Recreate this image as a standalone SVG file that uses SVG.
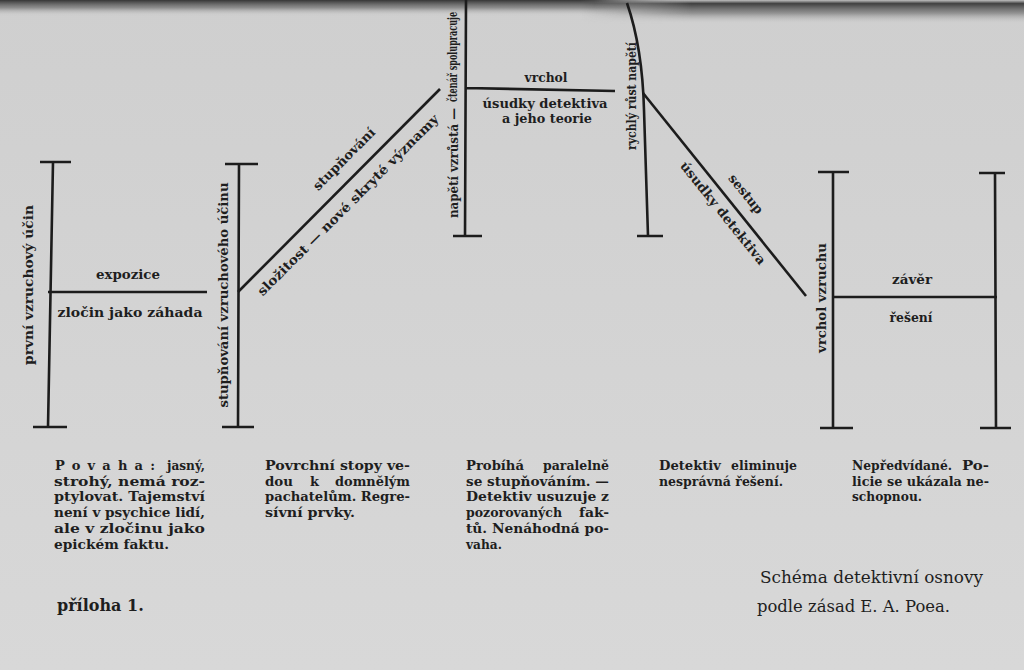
<svg xmlns="http://www.w3.org/2000/svg" width="1024" height="670" viewBox="0 0 1024 670">
<defs>
<linearGradient id="shadeL" x1="0" y1="0" x2="0" y2="1">
<stop offset="0" stop-color="#2e2e2e" stop-opacity="0.95"/>
<stop offset="0.5" stop-color="#666" stop-opacity="0.6"/>
<stop offset="1" stop-color="#d3d3d3" stop-opacity="0"/>
</linearGradient>
<linearGradient id="shadeR" x1="0" y1="0" x2="0" y2="1">
<stop offset="0" stop-color="#bdbdbd" stop-opacity="0.9"/>
<stop offset="0.15" stop-color="#303030" stop-opacity="0.9"/>
<stop offset="0.55" stop-color="#6a6a6a" stop-opacity="0.6"/>
<stop offset="1" stop-color="#d3d3d3" stop-opacity="0"/>
</linearGradient>
<linearGradient id="fadeX" x1="0" y1="0" x2="1" y2="0">
<stop offset="0" stop-color="#fff" stop-opacity="0"/>
<stop offset="0.25" stop-color="#fff" stop-opacity="1"/>
<stop offset="1" stop-color="#fff" stop-opacity="1"/>
</linearGradient>
<linearGradient id="fadeXL" x1="0" y1="0" x2="1" y2="0">
<stop offset="0" stop-color="#fff" stop-opacity="1"/>
<stop offset="0.85" stop-color="#fff" stop-opacity="1"/>
<stop offset="1" stop-color="#fff" stop-opacity="0"/>
</linearGradient>
<mask id="mR"><rect x="580" y="0" width="444" height="30" fill="url(#fadeX)"/></mask>
<mask id="mL"><rect x="0" y="0" width="700" height="30" fill="url(#fadeXL)"/></mask>
<linearGradient id="page" x1="0" y1="0" x2="0" y2="1">
<stop offset="0" stop-color="#cfcfcf"/>
<stop offset="1" stop-color="#d8d8d8"/>
</linearGradient>
<style>
.ln{stroke:#1c1c1c;stroke-width:2.6;fill:none;stroke-linecap:butt}
.lb{font-family:"DejaVu Serif","Liberation Serif",serif;font-weight:bold;font-size:13px;fill:#1e1e1e}
.tx{font-family:"DejaVu Serif","Liberation Serif",serif;font-weight:bold;font-size:13px;fill:#1e1e1e}
.cap{font-family:"DejaVu Serif","Liberation Serif",serif;font-size:16px;fill:#1e1e1e}
.c{text-anchor:middle;dominant-baseline:central}
.e{text-anchor:end}
</style>
</defs>
<rect width="1024" height="670" fill="url(#page)"/>
<rect x="0" y="0" width="700" height="16" fill="url(#shadeL)" mask="url(#mL)"/>
<rect x="580" y="0" width="444" height="24" fill="url(#shadeR)" mask="url(#mR)"/>

<g id="stage1">
<path class="ln" d="M53,162 L48,427 M40,162 H71 M33,427 H67 M48,292 H207"/>
<text class="lb c" transform="translate(28,285) rotate(-90)" textLength="160" lengthAdjust="spacingAndGlyphs">první vzruchový účin</text>
<text class="lb c" x="128" y="274" textLength="64" lengthAdjust="spacingAndGlyphs">expozice</text>
<text class="lb c" x="130" y="312" textLength="145" lengthAdjust="spacingAndGlyphs">zločin jako záhada</text>
</g>

<g id="stage2">
<path class="ln" d="M239,164 L238,427 M225,164 H258 M222,427 H254"/>
<text class="lb c" transform="translate(223,295) rotate(-90)" textLength="225" lengthAdjust="spacingAndGlyphs">stupňování vzruchového účinu</text>
</g>

<g id="stage3">
<path class="ln" d="M466,0 L465,236 M453,236 H482 M466,88 L615,91"/>
<text class="lb" transform="translate(458,218) rotate(-90)" textLength="110" lengthAdjust="spacingAndGlyphs">napětí vzrůstá —</text>
<text class="lb" transform="translate(457,102) rotate(-90)" font-size="10.5" textLength="90" lengthAdjust="spacingAndGlyphs">čtenář spolupracuje</text>
<text class="lb c" x="546" y="77" textLength="43" lengthAdjust="spacingAndGlyphs">vrchol</text>
<text class="lb c" x="545" y="103" textLength="125" lengthAdjust="spacingAndGlyphs">úsudky detektiva</text>
<text class="lb c" x="547" y="118" textLength="90" lengthAdjust="spacingAndGlyphs">a jeho teorie</text>
</g>

<g id="stage4">
<path class="ln" d="M627,3 C638,35 643,70 644,110 L648,236 M637,236 H663"/>
<text class="lb c" transform="translate(631,96) rotate(-90)" textLength="108" lengthAdjust="spacingAndGlyphs">rychlý růst napětí</text>
</g>

<g id="stage5">
<path class="ln" d="M833,172 L833,428 M818,172 H849 M820,428 H853 M995,173 L996,428 M979,173 H1005 M980,428 H1011 M833,297 H997"/>
<text class="lb c" transform="translate(821,298) rotate(-90)" textLength="110" lengthAdjust="spacingAndGlyphs">vrchol vzruchu</text>
<text class="lb c" x="912" y="279" textLength="40" lengthAdjust="spacingAndGlyphs">závěr</text>
<text class="lb c" x="911" y="317" textLength="43" lengthAdjust="spacingAndGlyphs">řešení</text>
</g>

<g id="connectors">
<path class="ln" d="M238,292 L440,89"/>
<path class="ln" d="M643,93 L806,296"/>
<text class="lb c" transform="translate(344,159) rotate(-45)" textLength="82" lengthAdjust="spacingAndGlyphs">stupňování</text>
<text class="lb c" transform="translate(348,205) rotate(-45)" textLength="250" lengthAdjust="spacingAndGlyphs">složitost — nové skryté významy</text>
<text class="lb c" transform="translate(746,194) rotate(51.2)" textLength="47" lengthAdjust="spacingAndGlyphs">sestup</text>
<text class="lb c" transform="translate(723,213) rotate(51.2)" textLength="128" lengthAdjust="spacingAndGlyphs">úsudky detektiva</text>
</g>

<g id="notes">
<text class="tx" x="55" y="470" textLength="100" lengthAdjust="spacing">Povaha:</text>
<text class="tx e" x="205" y="470" textLength="38" lengthAdjust="spacingAndGlyphs">jasný,</text>
<text class="tx" x="54" y="486" textLength="151" lengthAdjust="spacingAndGlyphs">strohý, nemá roz-</text>
<text class="tx" x="54" y="501" textLength="151" lengthAdjust="spacingAndGlyphs">ptylovat. Tajemství</text>
<text class="tx" x="54" y="517" textLength="151" lengthAdjust="spacingAndGlyphs">není v psychice lidí,</text>
<text class="tx" x="54" y="533" textLength="151" lengthAdjust="spacingAndGlyphs">ale v zločinu jako</text>
<text class="tx" x="54" y="549" textLength="115" lengthAdjust="spacingAndGlyphs">epickém faktu.</text>

<text class="tx" x="265" y="470" textLength="145" lengthAdjust="spacingAndGlyphs">Povrchní stopy ve-</text>
<text class="tx" x="265" y="486" textLength="28" lengthAdjust="spacingAndGlyphs">dou</text>
<text class="tx" x="310" y="486">k</text>
<text class="tx e" x="410" y="486" textLength="75" lengthAdjust="spacingAndGlyphs">domnělým</text>
<text class="tx" x="265" y="501" textLength="145" lengthAdjust="spacingAndGlyphs">pachatelům. Regre-</text>
<text class="tx" x="265" y="517" textLength="90" lengthAdjust="spacingAndGlyphs">sívní prvky.</text>

<text class="tx" x="466" y="470" textLength="58" lengthAdjust="spacingAndGlyphs">Probíhá</text>
<text class="tx e" x="609" y="470" textLength="66" lengthAdjust="spacingAndGlyphs">paralelně</text>
<text class="tx" x="466" y="486" textLength="143" lengthAdjust="spacingAndGlyphs">se stupňováním. —</text>
<text class="tx" x="466" y="501" textLength="143" lengthAdjust="spacingAndGlyphs">Detektiv usuzuje z</text>
<text class="tx" x="466" y="517" textLength="96" lengthAdjust="spacingAndGlyphs">pozorovaných</text>
<text class="tx e" x="609" y="517" textLength="30" lengthAdjust="spacingAndGlyphs">fak-</text>
<text class="tx" x="466" y="533" textLength="143" lengthAdjust="spacingAndGlyphs">tů. Nenáhodná po-</text>
<text class="tx" x="466" y="549" textLength="36" lengthAdjust="spacingAndGlyphs">vaha.</text>

<text class="tx" x="659" y="470" textLength="62" lengthAdjust="spacingAndGlyphs">Detektiv</text>
<text class="tx e" x="797" y="470" textLength="66" lengthAdjust="spacingAndGlyphs">eliminuje</text>
<text class="tx" x="659" y="486" textLength="124" lengthAdjust="spacingAndGlyphs">nesprávná řešení.</text>

<text class="tx" x="852" y="470" textLength="100" lengthAdjust="spacingAndGlyphs">Nepředvídané.</text>
<text class="tx e" x="989" y="470" textLength="27" lengthAdjust="spacingAndGlyphs">Po-</text>
<text class="tx" x="852" y="486" textLength="137" lengthAdjust="spacingAndGlyphs">licie se ukázala ne-</text>
<text class="tx" x="852" y="501" textLength="70" lengthAdjust="spacingAndGlyphs">schopnou.</text>
</g>

<g id="captions">
<text class="cap" x="57" y="611" font-weight="bold">příloha 1.</text>
<text class="cap" x="760" y="583" textLength="223" lengthAdjust="spacingAndGlyphs">Schéma detektivní osnovy</text>
<text class="cap" x="757" y="612" textLength="193" lengthAdjust="spacingAndGlyphs">podle zásad E. A. Poea.</text>
</g>
</svg>
